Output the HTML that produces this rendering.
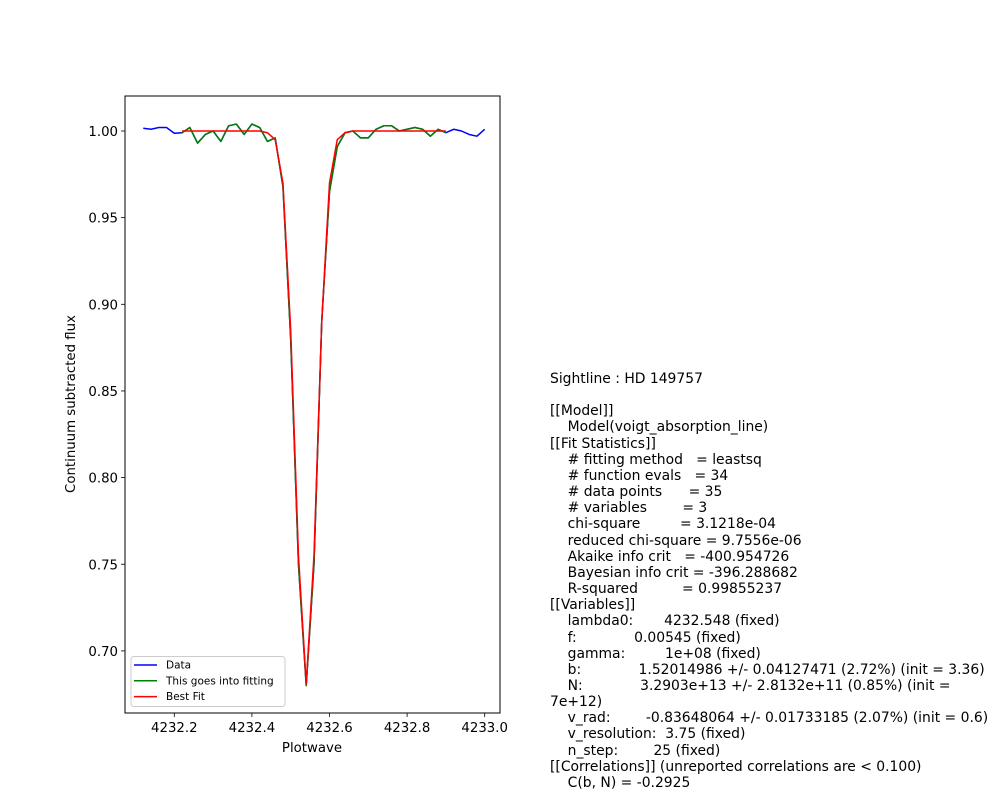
<!DOCTYPE html>
<html><head><meta charset="utf-8">
<style>
html,body{margin:0;padding:0;background:#fff;}
#wrap{position:relative;width:1000px;height:800px;overflow:hidden;font-family:"DejaVu Sans","Liberation Sans",sans-serif;}
#info{position:absolute;left:550px;top:371px;margin:0;font-family:"DejaVu Sans","Liberation Sans",sans-serif;font-size:13.9px;line-height:16.16px;white-space:pre;color:#000;}
svg text{font-family:"DejaVu Sans","Liberation Sans",sans-serif;}
</style></head><body>
<div id="wrap">
<svg id="chart" width="1000" height="800"></svg>
<pre id="info">Sightline : HD 149757

[[Model]]
    Model(voigt_absorption_line)
[[Fit Statistics]]
    # fitting method   = leastsq
    # function evals   = 34
    # data points      = 35
    # variables        = 3
    chi-square         = 3.1218e-04
    reduced chi-square = 9.7556e-06
    Akaike info crit   = -400.954726
    Bayesian info crit = -396.288682
    R-squared          = 0.99855237
[[Variables]]
    lambda0:       4232.548 (fixed)
    f:             0.00545 (fixed)
    gamma:         1e+08 (fixed)
    b:             1.52014986 +/- 0.04127471 (2.72%) (init = 3.36)
    N:             3.2903e+13 +/- 2.8132e+11 (0.85%) (init =
7e+12)
    v_rad:        -0.83648064 +/- 0.01733185 (2.07%) (init = 0.6)
    v_resolution:  3.75 (fixed)
    n_step:        25 (fixed)
[[Correlations]] (unreported correlations are < 0.100)
    C(b, N) = -0.2925</pre>
</div>
<script>
const dataX0 = 4232.12, dataStep = 0.02;
const dataFlux = [1.0016,1.001,1.002,1.002,0.9987,0.999,1.002,0.993,0.998,1.000,0.994,1.003,1.004,0.998,1.004,1.002,0.994,0.996,0.968,0.88,0.75,0.68,0.75,0.89,0.965,0.991,0.999,1.000,0.996,0.996,1.001,1.003,1.003,1.000,1.001,1.002,1.001,0.997,1.001,0.999,1.001,1.000,0.998,0.997,1.001];
const fitStart = 5, fitEnd = 39;
const bestFit = [1.000,1.000,1.000,1.000,1.000,1.000,1.000,1.000,1.000,1.000,1.000,0.999,0.995,0.970,0.885,0.755,0.681,0.755,0.890,0.970,0.995,0.999,1.000,1.000,1.000,1.000,1.000,1.000,1.000,1.000,1.000,1.000,1.000,1.000,1.000];
const xTicks = [4232.2,4232.4,4232.6,4232.8,4233.0];
const xTickLabels = ["4232.2","4232.4","4232.6","4232.8","4233.0"];
const yTicks = [0.70,0.75,0.80,0.85,0.90,0.95,1.00];
const yTickLabels = ["0.70","0.75","0.80","0.85","0.90","0.95","1.00"];

const NS="http://www.w3.org/2000/svg";
const svg=document.getElementById('chart');
const L=125,R=500,T=96,B=713;
function sx(v){return 174.3+(v-4232.2)*388;}
function sy(v){return 131+(1.0-v)*1733;}
function mk(tag,attrs,parent){const e=document.createElementNS(NS,tag);for(const k in attrs)e.setAttribute(k,attrs[k]);(parent||svg).appendChild(e);return e;}

const xs=dataFlux.map((_,i)=>dataX0+i*dataStep);
function pts(xArr,yArr){return yArr.map((y,i)=>sx(xArr[i]).toFixed(2)+","+sy(y).toFixed(2)).join(" ");}

const blue=mk('polyline',{points:pts(xs,dataFlux),fill:'none',stroke:'#0000ff','stroke-width':1.5,'stroke-linejoin':'round'});


const gx=xs.slice(fitStart,fitEnd+1), gy=dataFlux.slice(fitStart,fitEnd+1);
const green=mk('polyline',{points:pts(gx,gy),fill:'none',stroke:'#008000','stroke-width':1.5,'stroke-linejoin':'round'});


const red=mk('polyline',{points:pts(gx,bestFit),fill:'none',stroke:'#ff0000','stroke-width':1.5,'stroke-linejoin':'round'});



const frame=mk('rect',{x:L,y:T,width:R-L,height:B-T,fill:'none',stroke:'#000','stroke-width':1});



xTicks.forEach((v,i)=>{
  const x=sx(v);
  const t=mk('line',{x1:x,y1:B,x2:x,y2:B+4,stroke:'#000','stroke-width':0.8});
  
  
  const lb=mk('text',{x:x,y:B+19,'font-size':'13.3','text-anchor':'middle',fill:'#000'});
  lb.textContent=xTickLabels[i];
  
  
});
yTicks.forEach((v,i)=>{
  const y=sy(v);
  const t=mk('line',{x1:L-4,y1:y,x2:L,y2:y,stroke:'#000','stroke-width':0.8});
  
  
  const lb=mk('text',{x:L-7,y:y+5,'font-size':'13.3','text-anchor':'end',fill:'#000'});
  lb.textContent=yTickLabels[i];
  
  
});
const xt=mk('text',{x:312,y:752,'font-size':'13.3','text-anchor':'middle',fill:'#000'});
xt.textContent='Plotwave';


const yt=mk('text',{x:0,y:0,'font-size':'13.3','text-anchor':'middle',fill:'#000',transform:'translate(75,404) rotate(-90)'});
yt.textContent='Continuum subtracted flux';



const lg=mk('g',{});


mk('rect',{x:131,y:656.5,width:154,height:50,rx:3,fill:'#fff','fill-opacity':0.8,stroke:'#ccc','stroke-width':1},lg);
const entries=[['Data','#0000ff'],['This goes into fitting','#008000'],['Best Fit','#ff0000']];
entries.forEach((e,i)=>{
  const y=665+i*15.8;
  const g=mk('g',{},lg);
  
  
  mk('line',{x1:134,y1:y,x2:157,y2:y,stroke:e[1],'stroke-width':1.5},g);
  const t=mk('text',{x:166,y:y+3.5,'font-size':'10.5',fill:'#000'},g);
  t.textContent=e[0];
});
</script>
</body></html>
